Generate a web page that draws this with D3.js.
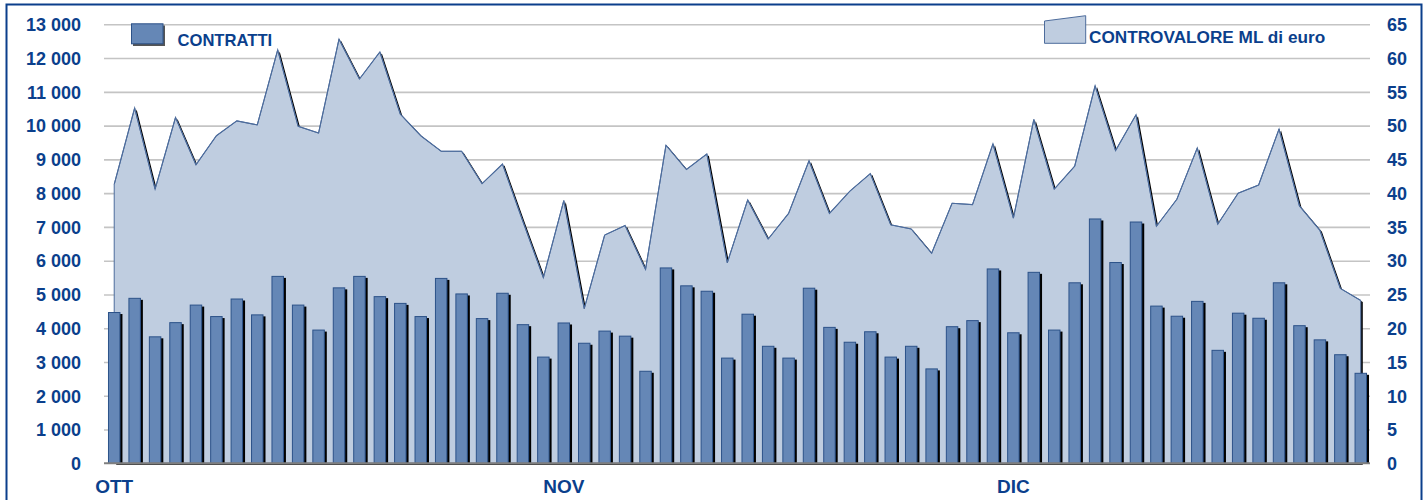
<!DOCTYPE html>
<html>
<head>
<meta charset="utf-8">
<script src="https://cdn.jsdelivr.net/npm/d3@7"></script>
<style>
  html, body { margin: 0; padding: 0; background: #ffffff; }
  svg { display: block; }
  text { font-family: "Liberation Sans", Arial, sans-serif; font-weight: bold; }
</style>
</head>
<body>
<svg id="chart" width="1428" height="500"></svg>
<script>
// ---- data ----
const days = d3.range(62);
const monthLabels = ["OTT", "NOV", "DIC"];
const monthIndex = [0, 22, 44];
const contratti = [4480,4900,3760,4180,4700,4360,4880,4410,5550,4700,
                   3960,5210,5550,4950,4750,4360,5490,5030,4300,5050,
                   4120,3160,4170,3570,3930,3780,2740,5800,5270,5110,
                   3130,4430,3480,3130,5200,4040,3600,3910,3160,3480,
                   2810,4060,4240,5770,3880,5670,3960,5360,7250,5960,
                   7160,4670,4370,4810,3360,4460,4310,5360,4090,3670,3230,2680];
const controvalore = [41.3,52.6,40.6,51.2,44.2,48.5,50.7,50.1,61.2,49.9,
                      48.9,62.8,56.9,60.9,51.7,48.5,46.2,46.2,41.4,44.3,
                      35.8,27.5,38.9,22.9,33.8,35.2,28.7,47.1,43.5,45.8,
                      29.7,39.0,33.2,37.0,44.8,37.0,40.3,42.9,35.3,34.7,
                      31.1,38.5,38.3,47.3,36.3,50.9,40.6,44.0,55.9,46.3,
                      51.6,35.1,39.1,46.7,35.4,40.0,41.2,49.5,38.1,34.5,25.9,24.1];
const leftTicks = d3.range(0, 13001, 1000);
const rightTicks = d3.range(0, 66, 5);
const legendBars = "CONTRATTI";
const legendArea = "CONTROVALORE ML di euro";

// ---- styles ----
const textColor = "#0b3f8c";
const barFill = "#6587b6";
const barStroke = "#2c5289";
const areaFill = "#bfcde0";
const areaStroke = "#4d6c9c";

const svg = d3.select("#chart");
const locale = d3.formatLocale({decimal: ",", thousands: " ", grouping: [3], currency: ["", ""]});
const fmt = locale.format(",");

const x = d3.scaleBand().domain(days).range([104, 1371]).paddingInner(0.39).paddingOuter(0.195);
const yL = d3.scaleLinear().domain([0, 13000]).range([463.3, 24.3]);
const yR = d3.scaleLinear().domain([0, 65]).range([463.3, 24.3]);
const cx = i => x(i) + x.bandwidth() / 2;

// frame
svg.append("rect").attr("x", 6.5).attr("y", 4.5).attr("width", 1415).attr("height", 520)
  .attr("fill", "none").attr("stroke", "#0b3f8c").attr("stroke-width", 2);

// gridlines
const grid = svg.append("g").attr("transform", "translate(104,0)")
  .call(d3.axisLeft(yL).tickValues(leftTicks.slice(1)).tickSize(-1266).tickFormat(""));
grid.select(".domain").remove();
grid.selectAll("line").attr("stroke", "#c4c4c4").attr("stroke-width", 1.6);

// area shadow, area, outline
const area = d3.area().x((d, i) => cx(i)).y0(yR(0)).y1(d => yR(d));
const line = d3.line().x((d, i) => cx(i)).y(d => yR(d));
svg.append("path").datum(controvalore).attr("d", area)
  .attr("fill", "#000").attr("transform", "translate(2,1.5)");
svg.append("path").datum(controvalore).attr("d", area).attr("fill", areaFill)
  .attr("stroke", areaStroke).attr("stroke-width", 1);
svg.append("path").datum(controvalore).attr("d", line)
  .attr("fill", "none").attr("stroke", areaStroke).attr("stroke-width", 1.1);

// bars
const bars = svg.append("g");
bars.selectAll("rect.sh").data(contratti).join("rect").attr("class", "sh")
  .attr("x", (d, i) => x(i) + 2).attr("y", d => yL(d) + 2)
  .attr("width", x.bandwidth()).attr("height", d => yL(0) - yL(d) - 2)
  .attr("fill", "#000");
bars.selectAll("rect.b").data(contratti).join("rect").attr("class", "b")
  .attr("x", (d, i) => x(i) + 0.5).attr("y", d => yL(d) + 0.5)
  .attr("width", x.bandwidth() - 1).attr("height", d => yL(0) - yL(d) - 0.5)
  .attr("fill", barFill).attr("stroke", barStroke).attr("stroke-width", 1);

// baseline
svg.append("line").attr("x1", 104).attr("x2", 1370).attr("y1", yL(0)).attr("y2", yL(0))
  .attr("stroke", "#7f7f7f").attr("stroke-width", 2);

// left axis labels
const ax1 = svg.append("g").attr("transform", "translate(81,0)")
  .call(d3.axisLeft(yL).tickValues(leftTicks).tickSize(0).tickPadding(0).tickFormat(fmt));
ax1.select(".domain").remove();
ax1.selectAll("text").attr("fill", textColor).style("font-size", "18px").attr("dy", "0.35em");

// right axis labels
const ax2 = svg.append("g").attr("transform", "translate(1387,0)")
  .call(d3.axisRight(yR).tickValues(rightTicks).tickSize(0).tickPadding(0));
ax2.select(".domain").remove();
ax2.selectAll("text").attr("fill", textColor).style("font-size", "18px").attr("dy", "0.35em");

// x axis labels
const ax3 = svg.append("g").attr("transform", `translate(0,${yL(0)})`)
  .call(d3.axisBottom(x).tickValues(monthIndex).tickSize(0)
    .tickFormat(i => monthLabels[monthIndex.indexOf(i)]));
ax3.select(".domain").remove();
ax3.selectAll("text").attr("fill", textColor).style("font-size", "19px")
  .attr("y", 29.4).attr("dy", 0);

// legends
svg.append("rect").attr("x", 133).attr("y", 25.5).attr("width", 32).attr("height", 20.5).attr("fill", "#555");
svg.append("rect").attr("x", 131.5).attr("y", 23.8).attr("width", 31.5).attr("height", 20)
  .attr("fill", barFill).attr("stroke", barStroke).attr("stroke-width", 1);
svg.append("text").attr("x", 177.5).attr("y", 45.6).attr("fill", textColor)
  .style("font-size", "16.6px").text(legendBars);

svg.append("polygon").attr("points", "1044.5,21 1085.7,15.7 1085.7,43.3 1044.5,43.3")
  .attr("fill", areaFill).attr("stroke", areaStroke).attr("stroke-width", 1);
svg.append("text").attr("x", 1089).attr("y", 43.3).attr("fill", textColor)
  .style("font-size", "17.2px").text(legendArea);
</script>
</body>
</html>
